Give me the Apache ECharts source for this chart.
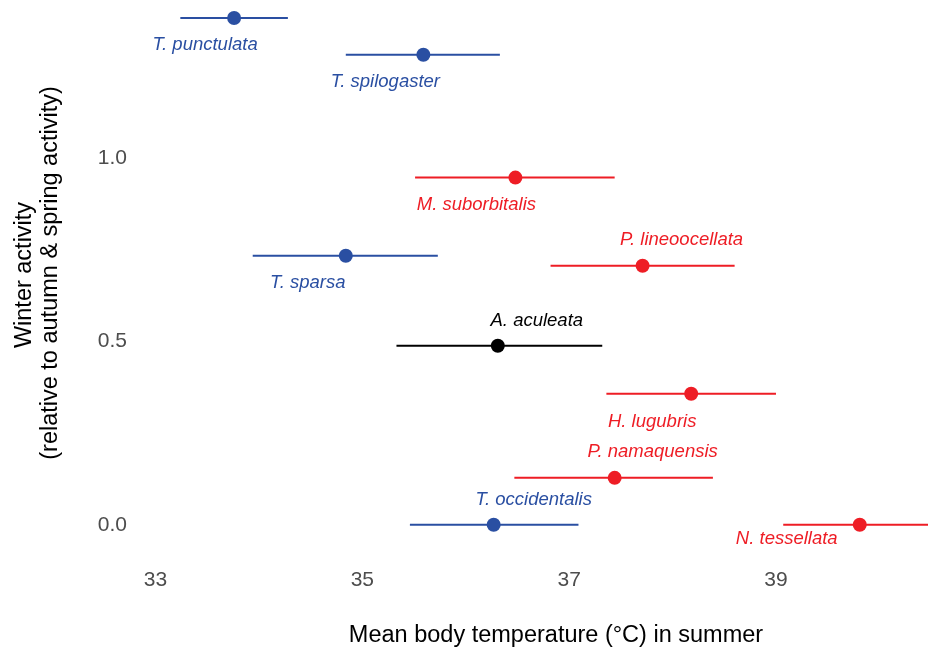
<!DOCTYPE html>
<html lang="en">
<head>
    <meta charset="utf-8">
    <title>Winter activity vs body temperature</title>
    <script src="https://cdn.jsdelivr.net/npm/echarts@6.0.0/dist/echarts.min.js"></script>
    <style>
        html, body { margin: 0; padding: 0; background: #fff; }
    </style>
</head>
<body>
    <div id="chart" style="width:928px; height:650px;"></div>

<script type="text/javascript">
// species data
var species = ['T. punctulata', 'T. spilogaster', 'M. suborbitalis', 'P. lineoocellata', 'T. sparsa',
               'A. aculeata', 'H. lugubris', 'P. namaquensis', 'T. occidentalis', 'N. tessellata'];
var group   = ['blue', 'blue', 'red', 'red', 'blue', 'black', 'red', 'red', 'blue', 'red'];
var tempMean = [33.76, 35.59, 36.48, 37.71, 34.84, 36.31, 38.18, 37.44, 36.27, 39.81];
var tempLow  = [33.24, 34.84, 35.51, 36.82, 33.94, 35.33, 37.36, 36.47, 35.46, 39.07];
var tempHigh = [34.28, 36.33, 37.44, 38.60, 35.73, 37.32, 39.00, 38.39, 37.09, 40.60];
var winterAct = [1.381, 1.281, 0.946, 0.706, 0.733, 0.488, 0.357, 0.128, 0.0, 0.0];

var xTicks = [33, 35, 37, 39];
var yTicks = [0, 0.5, 1.0];

// label nudges (px) as placed in the original
var labelNudge = [[-29, 27], [-38, 27], [-39, 27], [39, -26], [-38, 27],
                  [39, -25], [-39, 28], [38, -26], [40, -25], [-73, 14]];

var palette = { blue: '#2a4fa2', red: '#ee1d25', black: '#000000' };
var font = "'Liberation Sans', Arial, Helvetica, sans-serif";

var chart = echarts.init(document.getElementById('chart'));

var barData = [];
var pointData = [];
for (var i = 0; i < species.length; i++) {
    var c = palette[group[i]];
    barData.push({ value: [tempLow[i], tempHigh[i], winterAct[i]], color: c });
    pointData.push({
        name: species[i],
        value: [tempMean[i], winterAct[i]],
        itemStyle: { color: c, opacity: 1 },
        label: { color: c, offset: labelNudge[i] }
    });
}

var option = {
    backgroundColor: '#ffffff',
    animation: false,
    grid: { left: 140, right: 0, top: 0, bottom: 88.5 },
    xAxis: {
        type: 'value',
        min: 32.85,
        max: 40.47,
        axisLine: { show: false },
        axisTick: { show: false },
        splitLine: { show: false },
        axisLabel: {
            customValues: xTicks,
            color: '#4d4d4d',
            fontSize: 21,
            fontFamily: font,
            margin: 8
        }
    },
    yAxis: {
        type: 'value',
        min: -0.1,
        max: 1.43,
        axisLine: { show: false },
        axisTick: { show: false },
        splitLine: { show: false },
        axisLabel: {
            customValues: yTicks,
            color: '#4d4d4d',
            fontSize: 21,
            fontFamily: font,
            margin: 13,
            formatter: function (v) { return v.toFixed(1); }
        }
    },
    graphic: [
        {
            type: 'text', x: 556, y: 636,
            style: { text: 'Mean body temperature (°C) in summer', fill: '#000', font: '23.5px ' + font,
                     textAlign: 'center', textVerticalAlign: 'middle' }
        },
        {
            type: 'text', x: 25, y: 275, rotation: Math.PI / 2,
            style: { text: 'Winter activity', fill: '#000', font: '23.5px ' + font,
                     textAlign: 'center', textVerticalAlign: 'middle' }
        },
        {
            type: 'text', x: 51, y: 273, rotation: Math.PI / 2,
            style: { text: '(relative to autumn & spring activity)', fill: '#000', font: '23.5px ' + font,
                     textAlign: 'center', textVerticalAlign: 'middle' }
        }
    ],
    series: [
        {
            type: 'custom',
            clip: false,
            data: barData,
            renderItem: function (params, api) {
                var a = api.coord([api.value(0), api.value(2)]);
                var b = api.coord([api.value(1), api.value(2)]);
                return {
                    type: 'line',
                    shape: { x1: a[0], y1: a[1], x2: b[0], y2: b[1] },
                    style: { stroke: barData[params.dataIndex].color, lineWidth: 2 }
                };
            },
            z: 2
        },
        {
            type: 'scatter',
            symbol: 'circle',
            symbolSize: 14,
            data: pointData,
            itemStyle: { opacity: 1 },
            label: {
                show: true,
                position: 'inside',
                formatter: '{b}',
                fontSize: 18.5,
                fontStyle: 'italic',
                fontFamily: font
            },
            z: 3
        }
    ]
};

chart.setOption(option);
</script>
</body>
</html>
